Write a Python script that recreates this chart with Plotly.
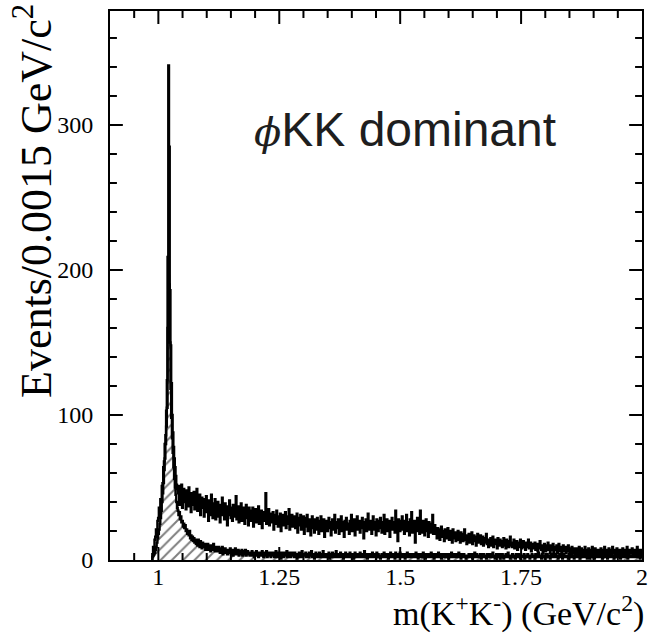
import plotly.graph_objects as go

# ---------------- data ----------------
BIN_WIDTH = 0.0015          # GeV/c^2
FIRST_EDGE = 0.9875         # first bin edge (K+K- threshold)

# all events (upper histogram), 675 bins of 1.5 MeV
total_counts = [
    4, 9, 8, 14, 16, 21, 19, 27, 29, 36, 33, 42, 40, 51, 53,
    64, 68, 80, 86, 103, 124, 209, 341, 285, 186, 148, 122, 100, 88, 78,
    70, 64, 58, 52, 49, 46, 51, 38, 47, 43, 52, 36, 45, 49, 40,
    44, 35, 48, 41, 37, 50, 39, 44, 33, 46, 42, 38, 47, 35, 43,
    40, 49, 34, 41, 37, 45, 31, 39, 43, 36, 42, 30, 40, 35, 44,
    33, 38, 27, 41, 36, 31, 45, 34, 29, 39, 35, 42, 28, 37, 33,
    40, 30, 36, 26, 38, 34, 43, 31, 35, 28, 39, 33, 37, 24, 35,
    31, 41, 34, 29, 36, 27, 38, 32, 35, 30, 44, 28, 33, 37, 26,
    35, 31, 39, 27, 34, 30, 36, 25, 33, 38, 29, 32, 24, 36, 30,
    34, 27, 31, 36, 23, 33, 29, 35, 26, 32, 30, 37, 25, 31, 28,
    34, 22, 30, 27, 33, 29, 46, 25, 31, 28, 35, 24, 30, 26, 32,
    27, 33, 21, 29, 31, 25, 34, 28, 23, 30, 26, 32, 20, 29, 27,
    31, 24, 28, 33, 22, 27, 30, 25, 35, 21, 28, 26, 31, 23, 29,
    25, 30, 22, 27, 32, 19, 26, 29, 24, 31, 21, 27, 25, 30, 18,
    26, 29, 23, 31, 20, 27, 24, 28, 17, 25, 30, 22, 26, 19, 28,
    24, 21, 29, 25, 18, 27, 23, 30, 20, 26, 22, 28, 16, 25, 23,
    27, 20, 24, 29, 22, 26, 17, 25, 28, 21, 24, 31, 19, 26, 23,
    22, 28, 18, 25, 23, 30, 20, 26, 24, 16, 27, 22, 29, 21, 25,
    23, 18, 27, 24, 31, 20, 25, 22, 28, 17, 26, 23, 30, 21, 24,
    27, 19, 25, 22, 29, 24, 15, 26, 23, 28, 20, 25, 32, 21, 24,
    22, 27, 18, 25, 30, 21, 26, 23, 17, 28, 24, 20, 27, 22, 29,
    24, 19, 26, 22, 31, 18, 25, 23, 28, 20, 24, 27, 16, 25, 22,
    29, 21, 24, 26, 19, 34, 22, 25, 13, 28, 23, 20, 27, 24, 30,
    21, 25, 18, 27, 23, 31, 20, 26, 22, 17, 28, 24, 33, 19, 25,
    22, 27, 12, 24, 20, 29, 23, 26, 18, 34, 21, 25, 19, 27, 22,
    17, 24, 28, 20, 23, 16, 26, 21, 25, 19, 22, 31, 18, 21, 24,
    18, 20, 15, 22, 17, 21, 14, 19, 23, 16, 20, 18, 13, 21, 17,
    19, 15, 22, 17, 14, 20, 16, 18, 12, 21, 17, 15, 19, 13, 18,
    16, 20, 14, 17, 12, 19, 15, 18, 13, 16, 21, 14, 17, 11, 16,
    15, 18, 12, 16, 14, 19, 11, 15, 17, 13, 16, 10, 14, 18, 12,
    15, 13, 17, 11, 14, 16, 10, 13, 15, 12, 18, 11, 14, 9, 13,
    12, 15, 10, 13, 16, 9, 12, 14, 11, 13, 8, 15, 12, 10, 14,
    11, 13, 9, 12, 15, 10, 12, 8, 14, 11, 13, 9, 12, 16, 10,
    12, 9, 11, 14, 8, 12, 10, 13, 7, 11, 12, 9, 14, 10, 8,
    11, 13, 9, 10, 7, 12, 9, 11, 14, 8, 10, 12, 6, 9, 11,
    8, 10, 12, 7, 9, 11, 6, 10, 8, 13, 9, 7, 10, 5, 9,
    11, 8, 6, 10, 9, 12, 7, 8, 5, 10, 9, 7, 11, 6, 8,
    9, 7, 10, 5, 8, 11, 6, 9, 7, 4, 8, 10, 6, 7, 9,
    5, 8, 7, 10, 6, 4, 8, 7, 9, 5, 6, 8, 3, 7, 6,
    8, 5, 7, 9, 4, 6, 8, 5, 7, 3, 6, 9, 5, 7, 4,
    6, 8, 5, 3, 7, 6, 9, 4, 6, 5, 8, 3, 6, 7, 5,
    7, 4, 6, 8, 5, 3, 7, 6, 9, 4, 5, 7, 6, 3, 8,
    5, 6, 4, 7, 9, 5, 6, 3, 7, 5, 8, 4, 6, 7, 5,
    4, 7, 6, 8, 3, 5, 7, 6, 4, 9, 5, 6, 3, 7, 6,
    5, 8, 4, 6, 7, 3, 6, 5, 9, 4, 7, 5, 6, 4, 7,
]

# phi-KK component (lower, hatched histogram), same binning
phi_counts = [
    2, 3, 4, 5, 7, 9, 12, 15, 18, 21, 25, 29, 34, 40, 46,
    53, 62, 70, 80, 92, 105, 160, 196, 190, 150, 118, 98, 84, 74, 64,
    56, 50, 45, 40, 36, 34, 31, 33, 28, 30, 26, 27, 23, 25, 22,
    24, 20, 21, 18, 19, 17, 20, 15, 17, 14, 16, 13, 15, 12, 14,
    11, 13, 10, 14, 12, 9, 13, 11, 8, 12, 10, 9, 11, 7, 10,
    9, 11, 7, 10, 8, 6, 10, 9, 7, 11, 8, 6, 9, 7, 8,
    6, 9, 7, 5, 8, 6, 9, 4, 7, 6, 8, 5, 7, 4, 6,
    7, 5, 8, 4, 6, 7, 3, 6, 5, 8, 4, 6, 5, 7, 3,
    6, 4, 5, 7, 3, 6, 5, 4, 7, 3, 5, 6, 4, 5, 3,
    5, 4, 6, 3, 4, 2, 5, 4, 6, 3, 5, 2, 4, 5, 3,
    4, 6, 3, 2, 5, 4, 3, 6, 2, 4, 5, 3, 4, 2, 5,
    3, 4, 5, 2, 4, 6, 3, 2, 4, 5, 3, 4, 1, 5, 3,
    4, 2, 5, 3, 4, 6, 2, 3, 5, 4, 2, 3, 5, 4, 3,
    2, 5, 3, 4, 1, 4, 3, 5, 2, 4, 3, 6, 2, 3, 4,
    3, 5, 2, 4, 3, 2, 5, 3, 4, 6, 2, 3, 4, 1, 4,
    5, 3, 2, 4, 3, 5, 2, 4, 3, 2, 6, 3, 4, 2, 3,
    4, 2, 3, 5, 1, 4, 3, 2, 5, 3, 4, 2, 3, 6, 2,
    3, 4, 2, 3, 5, 2, 4, 3, 1, 4, 3, 5, 2, 3, 4,
    2, 3, 5, 4, 2, 3, 4, 1, 3, 5, 2, 4, 3, 2, 4,
    3, 5, 2, 3, 4, 2, 3, 6, 2, 4, 3, 1, 4, 3, 2,
    4, 2, 3, 5, 3, 2, 4, 3, 2, 5, 3, 4, 2, 3, 1,
    3, 4, 2, 3, 5, 2, 3, 4, 2, 3, 1, 4, 3, 5, 2,
    3, 2, 4, 3, 1, 5, 2, 3, 4, 2, 3, 5, 2, 3, 4,
    2, 3, 4, 1, 3, 2, 5, 3, 2, 4, 3, 2, 4, 3, 2,
    4, 2, 3, 5, 2, 3, 1, 4, 2, 3, 4, 2, 3, 5, 2,
    3, 1, 4, 2, 3, 4, 2, 3, 2, 5, 3, 2, 4, 1, 3,
    2, 4, 3, 2, 5, 2, 3, 4, 1, 3, 2, 4, 3, 2, 3,
    4, 2, 3, 1, 4, 3, 2, 5, 2, 3, 4, 2, 3, 2, 4,
    2, 3, 5, 2, 3, 1, 4, 2, 3, 4, 2, 3, 1, 3, 2,
    3, 4, 2, 3, 2, 4, 1, 3, 2, 5, 3, 2, 4, 2, 3,
    2, 3, 4, 1, 3, 2, 4, 3, 2, 3, 1, 4, 2, 3, 2,
    4, 2, 3, 2, 5, 2, 3, 1, 3, 4, 2, 3, 2, 4, 1,
    3, 2, 4, 3, 1, 3, 2, 4, 2, 3, 5, 2, 3, 1, 3,
    2, 4, 3, 2, 3, 1, 4, 2, 3, 2, 4, 3, 1, 3, 2,
    3, 2, 4, 1, 3, 2, 3, 4, 2, 3, 1, 3, 2, 4, 2,
    2, 3, 1, 4, 2, 3, 2, 5, 3, 2, 3, 1, 4, 2, 3,
    3, 1, 3, 2, 4, 2, 3, 2, 1, 4, 3, 2, 3, 5, 2,
    2, 4, 2, 3, 1, 3, 4, 2, 3, 2, 1, 3, 4, 2, 3,
    3, 2, 3, 1, 4, 2, 3, 2, 4, 3, 2, 1, 3, 2, 4,
    2, 3, 4, 2, 1, 3, 2, 4, 3, 2, 3, 5, 2, 3, 1,
    3, 2, 1, 3, 4, 2, 3, 2, 4, 1, 3, 2, 3, 4, 2,
    4, 2, 3, 5, 2, 1, 3, 2, 4, 3, 2, 3, 1, 2, 3,
    2, 3, 2, 4, 3, 2, 1, 3, 2, 4, 3, 2, 5, 3, 2,
    1, 3, 4, 2, 3, 2, 4, 3, 2, 3, 1, 3, 2, 2, 3,
    3, 2, 4, 3, 2, 2, 3, 2, 3, 4, 2, 3, 1, 3, 2,
]

x_tick_values = [1, 1.25, 1.5, 1.75, 2]
x_tick_labels = ["1", "1.25", "1.5", "1.75", "2"]
y_tick_values = [0, 100, 200, 300]
y_tick_labels = ["0", "100", "200", "300"]
x_range = [0.9, 2.0]
y_range = [0, 378.6]
x_minor_step = 0.05
y_minor_step = 20

# plot-area geometry (px)
FIG_W, FIG_H = 649, 635
M_L, M_R, M_T, M_B = 110, 1, 11, 75
PLOT_W = FIG_W - M_L - M_R
PLOT_H = FIG_H - M_T - M_B
MAJOR_LEN, MINOR_LEN = 13, 7


def step_outline(counts):
    n = len(counts)
    edges = [FIRST_EDGE + i * BIN_WIDTH for i in range(n + 1)]
    xs = [edges[0]] + edges[:n] + [edges[n]]
    ys = [0] + list(counts) + [counts[-1]]
    return xs, ys


fig = go.Figure()

px_, py_ = step_outline(phi_counts)
fig.add_trace(go.Scatter(
    x=px_, y=py_, mode="lines", line_shape="hv",
    line=dict(color="black", width=2.4),
    fill="tozeroy", fillcolor="white",
    fillpattern=dict(shape="/", size=8, solidity=0.25,
                     fgcolor="black", bgcolor="white"),
    hoverinfo="skip", showlegend=False,
))

tx_, ty_ = step_outline(total_counts)
fig.add_trace(go.Scatter(
    x=tx_, y=ty_, mode="lines", line_shape="hv",
    line=dict(color="black", width=2.4),
    hoverinfo="skip", showlegend=False,
))

# ---- inward ticks on all four sides (ROOT style frame) ----
def frange(start, stop, step):
    vals, i = [], 0
    while True:
        v = round(start + i * step, 6)
        if v > stop + 1e-9:
            break
        vals.append(v)
        i += 1
    return vals

shapes = []
tick_line = dict(color="black", width=2)
for v in frange(x_range[0], x_range[1], x_minor_step):
    if v <= x_range[0] + 1e-9 or v >= x_range[1] - 1e-9:
        continue
    L = MAJOR_LEN if any(abs(v - t) < 1e-9 for t in x_tick_values) else MINOR_LEN
    f = L / PLOT_H
    shapes.append(dict(type="line", xref="x", yref="paper", x0=v, x1=v, y0=0, y1=f, line=tick_line))
    shapes.append(dict(type="line", xref="x", yref="paper", x0=v, x1=v, y0=1, y1=1 - f, line=tick_line))
for v in frange(y_range[0], y_range[1], y_minor_step):
    if v <= y_range[0] + 1e-9 or v >= y_range[1] - 1e-9:
        continue
    L = MAJOR_LEN if any(abs(v - t) < 1e-9 for t in y_tick_values) else MINOR_LEN
    f = L / PLOT_W
    shapes.append(dict(type="line", xref="paper", yref="y", x0=0, x1=f, y0=v, y1=v, line=tick_line))
    shapes.append(dict(type="line", xref="paper", yref="y", x0=1, x1=1 - f, y0=v, y1=v, line=tick_line))

tick_font = dict(family="Liberation Serif, Times New Roman, serif", size=24, color="black")

fig.update_xaxes(
    range=x_range, tickmode="array", tickvals=x_tick_values, ticktext=x_tick_labels,
    ticks="", showline=True, linewidth=2, linecolor="black", mirror=True,
    showgrid=False, zeroline=False, tickfont=tick_font,
    ticklabelstandoff=-6, ticklabeloverflow="allow",
)
fig.update_yaxes(
    range=y_range, tickmode="array", tickvals=y_tick_values, ticktext=y_tick_labels,
    ticks="", showline=True, linewidth=2, linecolor="black", mirror=True,
    showgrid=False, zeroline=False, tickfont=tick_font,
    ticklabelstandoff=10, ticklabeloverflow="allow",
)

fig.add_annotation(
    text="m(K<sup>+</sup>K<sup>-</sup>) (GeV/c<sup>2</sup>)",
    xref="paper", yref="paper", x=1.008, y=-0.093, xanchor="right", yanchor="middle",
    showarrow=False,
    font=dict(family="Liberation Serif, Times New Roman, serif", size=34, color="black"),
)
fig.add_annotation(
    text="Events/0.0015 GeV/c<sup>2</sup>",
    xref="paper", yref="paper", x=-0.0874, y=1.0164, xanchor="right", yanchor="top",
    textangle=-90, showarrow=False,
    font=dict(family="Liberation Serif, Times New Roman, serif", size=44, color="black"),
)
fig.add_annotation(
    text="<span style=\"font-family:'DejaVu Serif'; font-size:40px\"><i>ϕ</i></span>KK dominant",
    xref="paper", yref="paper", x=0.266, y=0.785, xanchor="left", yanchor="middle",
    showarrow=False,
    font=dict(family="Liberation Sans, Arial, sans-serif", size=48, color="#1e1e1e"),
)

fig.update_layout(
    width=FIG_W, height=FIG_H,
    margin=dict(l=M_L, r=M_R, t=M_T, b=M_B),
    paper_bgcolor="white", plot_bgcolor="white",
    shapes=shapes,
)

fig.write_html("out.html")
